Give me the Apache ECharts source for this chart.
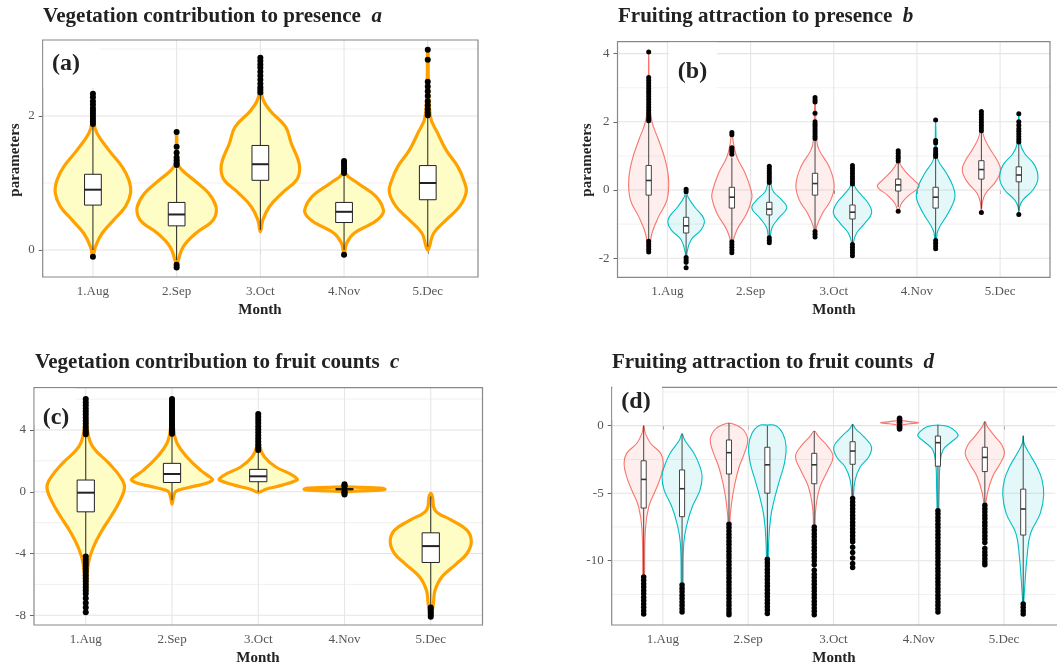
<!DOCTYPE html>
<html><head><meta charset="utf-8">
<script src="https://cdn.jsdelivr.net/npm/echarts@6/dist/echarts.min.js"></script>
<style>html,body{margin:0;padding:0;background:#fff}#c{width:1057px;height:667px}</style>
</head><body><div id="c"></div><script>
// ---------------- data ----------------
const months = ['1.Aug', '2.Sep', '3.Oct', '4.Nov', '5.Dec'];
const monthPos = [1, 2, 3, 4, 5];

// (a) Vegetation contribution to presence
const aTicks = [0, 2];
const aMinor = [1, 3];
const aBox = [[0.0, 0.67, 0.90, 1.13, 1.84], [-0.15, 0.36, 0.53, 0.71, 1.22], [0.3, 1.04, 1.28, 1.56, 2.31], [0.0, 0.41, 0.57, 0.71, 1.14], [0.05, 0.75, 1.0, 1.26, 2.0]];
const aViolin = [
  [[2.33,0],[1.9,0.012],[1.74,0.05],[1.49,0.19],[1.24,0.35],[1.04,0.43],[0.85,0.45],[0.65,0.39],[0.45,0.25],[0.25,0.11],[0.05,0.03],[-0.1,0]],
  [[1.76,0],[1.3,0.015],[1.2,0.06],[1.04,0.21],[0.85,0.38],[0.65,0.47],[0.5,0.46],[0.4,0.4],[0.25,0.23],[0.05,0.08],[-0.15,0.02],[-0.25,0]],
  [[2.87,0],[2.3,0.02],[2.09,0.11],[1.84,0.3],[1.59,0.37],[1.35,0.45],[1.2,0.47],[1.04,0.43],[0.85,0.26],[0.65,0.11],[0.45,0.03],[0.27,0]],
  [[1.33,0],[1.14,0.02],[1.0,0.16],[0.8,0.38],[0.6,0.47],[0.5,0.44],[0.4,0.34],[0.25,0.12],[0.1,0.03],[-0.07,0]],
  [[3.0,0],[2.0,0.03],[1.74,0.12],[1.49,0.22],[1.24,0.36],[1.04,0.43],[0.87,0.46],[0.65,0.38],[0.45,0.22],[0.25,0.07],[0.05,0.02],[0.0,0]]
];
const aOut = [
  [2.33, 2.28, 2.22, 2.17, 2.12, 2.08, 2.04, 2.0, 1.96, 1.92, 1.88, -0.1],
  [1.76, 1.54, 1.45, 1.38, 1.34, 1.3, 1.27, -0.22, -0.26],
  [2.87, 2.82, 2.77, 2.72, 2.66, 2.6, 2.54, 2.48, 2.43, 2.39, 2.35],
  [1.33, 1.3, 1.26, 1.22, 1.18, 1.15, -0.07],
  [2.99, 2.84, 2.51, 2.44, 2.37, 2.3, 2.22, 2.16, 2.1, 2.05, 2.01]
];

// (b) Fruiting attraction to presence
const bTicks = [-2, 0, 2, 4];
const bMinor = [-1, 1, 3];
const bBoxRed = [[-1.45, -0.15, 0.28, 0.72, 1.98], [-1.45, -0.53, -0.21, 0.08, 0.95], [-1.15, -0.15, 0.19, 0.49, 1.45], [-0.5, -0.03, 0.15, 0.32, 0.8], [-0.55, 0.32, 0.6, 0.86, 1.7]];
const bBoxCyan = [[-1.9, -1.26, -1.05, -0.8, -0.15], [-1.35, -0.73, -0.56, -0.36, 0.17], [-1.55, -0.85, -0.65, -0.44, 0.14], [-1.45, -0.53, -0.21, 0.08, 0.95], [-0.6, 0.24, 0.44, 0.68, 1.35]];
const bViolinRed = [
  [[4.05,0],[2.6,0.01],[2.0,0.04],[1.46,0.12],[0.87,0.2],[0.29,0.24],[-0.29,0.22],[-0.78,0.12],[-1.26,0.04],[-1.8,0]],
  [[1.68,0],[1.36,0.02],[0.97,0.06],[0.49,0.16],[0.0,0.23],[-0.24,0.24],[-0.68,0.18],[-1.17,0.06],[-1.55,0.01],[-1.85,0]],
  [[2.7,0],[1.46,0.02],[1.17,0.05],[0.68,0.17],[0.15,0.23],[-0.29,0.19],[-0.68,0.09],[-1.07,0.02],[-1.4,0]],
  [[1.15,0],[0.78,0.02],[0.53,0.09],[0.29,0.19],[0.1,0.25],[-0.15,0.13],[-0.39,0.04],[-0.62,0]],
  [[2.3,0],[1.65,0.02],[1.26,0.09],[0.87,0.19],[0.58,0.23],[0.24,0.17],[-0.1,0.05],[-0.39,0.01],[-0.66,0]]
];
const bViolinCyan = [
  [[0.02,0],[-0.19,0.02],[-0.49,0.1],[-0.78,0.2],[-0.95,0.22],[-1.17,0.18],[-1.46,0.06],[-1.85,0.01],[-2.28,0]],
  [[0.7,0],[0.19,0.02],[-0.05,0.05],[-0.29,0.15],[-0.53,0.21],[-0.83,0.11],[-1.12,0.03],[-1.46,0.01],[-1.55,0]],
  [[0.72,0],[0.15,0.02],[-0.1,0.09],[-0.39,0.19],[-0.68,0.23],[-0.97,0.15],[-1.26,0.05],[-1.55,0.01],[-1.93,0]],
  [[2.05,0],[1.17,0.01],[0.87,0.03],[0.49,0.13],[0.1,0.21],[-0.24,0.23],[-0.68,0.15],[-1.17,0.03],[-1.46,0.01],[-1.72,0]],
  [[2.24,0],[1.36,0.02],[1.07,0.07],[0.73,0.19],[0.34,0.23],[0.0,0.17],[-0.29,0.05],[-0.49,0.01],[-0.72,0]]
];
const bOutRed = [
  [4.05, 3.3, 3.22, 3.14, 3.06, 2.98, 2.9, 2.82, 2.74, 2.66, 2.58, 2.5, 2.42, 2.34, 2.26, 2.18, 2.1, 2.03, -1.5, -1.58, -1.66, -1.74, -1.82],
  [1.69, 1.62, 1.24, 1.18, 1.12, 1.05, -1.52, -1.6, -1.68, -1.76, -1.84],
  [2.71, 2.64, 2.58, 2.25, 2.0, 1.93, 1.86, 1.79, 1.72, 1.65, 1.58, 1.51, -1.22, -1.3, -1.38],
  [1.15, 1.08, 1.0, 0.93, 0.85, -0.62],
  [2.3, 2.22, 2.14, 2.06, 1.98, 1.9, 1.82, 1.74, -0.66]
];
const bOutCyan = [
  [0.02, -0.05, -1.98, -2.05, -2.12, -2.28],
  [0.7, 0.63, 0.56, 0.49, 0.42, 0.35, 0.28, 0.22, -1.4, -1.47, -1.55],
  [0.72, 0.64, 0.56, 0.48, 0.4, 0.32, 0.24, 0.18, -1.6, -1.68, -1.76, -1.84, -1.93],
  [2.05, 1.45, 1.38, 1.2, 1.12, 1.05, 0.98, -1.48, -1.56, -1.64, -1.72],
  [2.24, 2.0, 1.9, 1.8, 1.72, 1.64, 1.56, 1.48, 1.41, -0.72]
];

// (c) Vegetation contribution to fruit counts
const cTicks = [-8, -4, 0, 4];
const cMinor = [-6, -2, 2, 6];
const cBox = [[-4.1, -1.3, -0.06, 0.76, 3.6], [-0.55, 0.6, 1.15, 1.84, 3.65], [0.0, 0.65, 1.0, 1.45, 2.65], [0.1, 0.13, 0.17, 0.21, 0.24], [-7.4, -4.58, -3.52, -2.66, -0.3]];
const cViolin = [
  [[6.0,0],[4.0,0.02],[2.92,0.08],[1.84,0.27],[0.97,0.4],[0.32,0.45],[-0.54,0.4],[-1.62,0.29],[-2.49,0.19],[-3.57,0.09],[-4.65,0.03],[-6.4,0.01],[-7.8,0]],
  [[6.0,0],[4.0,0.02],[3.13,0.06],[2.27,0.17],[1.4,0.33],[0.95,0.44],[0.76,0.47],[0.55,0.4],[0.35,0.25],[0.15,0.1],[0.0,0.04],[-0.4,0.015],[-0.8,0]],
  [[5.04,0],[2.92,0.02],[2.27,0.07],[1.62,0.2],[1.19,0.36],[0.9,0.44],[0.76,0.45],[0.43,0.28],[0.15,0.08],[-0.04,0]],
  [[0.32,0],[0.28,0.2],[0.24,0.42],[0.17,0.47],[0.1,0.42],[0.06,0.2],[0.02,0]],
  [[-0.1,0],[-0.32,0.02],[-1.19,0.05],[-1.84,0.24],[-2.49,0.42],[-3.24,0.47],[-4.0,0.42],[-4.65,0.3],[-5.51,0.13],[-6.38,0.05],[-7.24,0.03],[-8.1,0]]
];
const cOut = [
  [6.0, 5.8, 5.6, 5.4, 5.2, 5.0, 4.8, 4.6, 4.4, 4.2, 4.0, 3.85, 3.72, -4.2, -4.4, -4.6, -4.8, -5.0, -5.2, -5.4, -5.6, -5.8, -6.0, -6.2, -6.4, -6.6, -6.9, -7.2, -7.5, -7.8],
  [6.0, 5.85, 5.7, 5.55, 5.4, 5.25, 5.1, 4.95, 4.8, 4.65, 4.5, 4.35, 4.2, 4.05, 3.9, 3.75],
  [5.04, 4.85, 4.65, 4.45, 4.25, 4.05, 3.85, 3.65, 3.45, 3.25, 3.05, 2.85, 2.7],
  [0.48, 0.4, 0.33, 0.05, -0.02, -0.1, -0.18],
  [-7.5, -7.65, -7.8, -7.95, -8.1]
];

// (d) Fruiting attraction to fruit counts
const dTicks = [-10, -5, 0];
const dMinor = [-12.5, -7.5, -2.5, 2.5];
const dBoxRed = [[-11.0, -6.1, -3.98, -2.6, 0.0], [-7.1, -3.58, -2.0, -1.06, 0.2], [-7.3, -4.3, -2.9, -2.05, -0.4], [0.1, 0.15, 0.2, 0.25, 0.3], [-5.7, -3.4, -2.35, -1.6, 0.3]];
const dBoxCyan = [[-11.6, -6.74, -4.67, -3.28, -0.6], [-9.7, -5.0, -2.9, -1.6, 0.0], [-5.25, -2.86, -1.88, -1.19, 0.1], [-6.1, -3.0, -1.26, -0.77, 0.05], [-13.0, -8.1, -6.17, -4.7, -0.75]];
const dViolinRed = [
  [[0,0],[-0.57,0.02],[-1.3,0.08],[-2.05,0.2],[-2.8,0.23],[-3.78,0.2],[-4.77,0.14],[-6.0,0.06],[-7.7,0.02],[-11.2,0.01],[-14,0]],
  [[0.2,0],[0.05,0.08],[-0.32,0.17],[-1.06,0.22],[-2.05,0.18],[-3.04,0.12],[-4.27,0.07],[-5.75,0.03],[-7.23,0.01],[-14,0]],
  [[-0.4,0],[-0.8,0.05],[-1.55,0.16],[-2.3,0.22],[-3.28,0.16],[-4.5,0.07],[-6.0,0.02],[-7.5,0.01],[-14,0]],
  [[0.38,0],[0.3,0.12],[0.22,0.225],[0.14,0.12],[0.06,0]],
  [[0.3,0],[-0.07,0.03],[-0.81,0.12],[-1.43,0.2],[-2.05,0.23],[-2.8,0.18],[-3.78,0.09],[-5.0,0.03],[-6.0,0.01],[-10.3,0]]
];
const dViolinCyan = [
  [[-0.6,0],[-1.06,0.03],[-2.05,0.14],[-3.04,0.21],[-3.78,0.235],[-4.77,0.21],[-6.0,0.12],[-7.23,0.06],[-8.7,0.02],[-11.7,0.01],[-13.8,0]],
  [[0.05,0],[0.0,0.1],[-0.57,0.18],[-1.55,0.22],[-2.8,0.2],[-4.0,0.145],[-5.26,0.09],[-6.74,0.04],[-8.7,0.015],[-14,0]],
  [[0.1,0],[-0.2,0.03],[-0.81,0.13],[-1.55,0.22],[-2.3,0.19],[-3.04,0.09],[-4.0,0.03],[-5.26,0.01],[-10.5,0]],
  [[0.05,0],[-0.07,0.12],[-0.44,0.21],[-0.77,0.235],[-1.19,0.16],[-1.8,0.06],[-2.8,0.025],[-4.77,0.015],[-6.37,0.01],[-13.8,0]],
  [[-0.75,0],[-1.3,0.01],[-2.05,0.07],[-3.04,0.16],[-4.0,0.22],[-5.14,0.24],[-6.5,0.2],[-8.0,0.085],[-9.7,0.045],[-11.7,0.02],[-13.2,0.005],[-14,0]]
];
const dOutRed = [
  [-11.2, -11.45, -11.7, -11.95, -12.2, -12.45, -12.7, -12.95, -13.2, -13.45, -13.7, -13.95],
  [-7.3, -7.55, -7.8, -8.05, -8.3, -8.55, -8.8, -9.05, -9.3, -9.55, -9.8, -10.05, -10.3, -10.55, -10.8, -11.05, -11.3, -11.55, -11.8, -12.05, -12.3, -12.55, -12.8, -13.05, -13.3, -13.55, -13.8, -14.0],
  [-7.5, -7.75, -8.0, -8.25, -8.5, -8.75, -9.0, -9.25, -9.5, -9.75, -10.0, -10.3, -10.7, -11.0, -11.25, -11.5, -11.75, -12.0, -12.25, -12.5, -12.75, -13.0, -13.25, -13.5, -13.75, -14.0],
  [0.55, 0.45, 0.35, 0.0, -0.08, -0.16, -0.25],
  [-5.9, -6.15, -6.4, -6.65, -6.9, -7.15, -7.4, -7.65, -7.9, -8.15, -8.4, -8.65, -9.1, -9.35, -9.6, -9.85, -10.1, -10.3]
];
const dOutCyan = [
  [-11.8, -12.05, -12.3, -12.55, -12.8, -13.05, -13.3, -13.55, -13.8],
  [-9.9, -10.15, -10.4, -10.65, -10.9, -11.15, -11.4, -11.65, -11.9, -12.15, -12.4, -12.65, -12.9, -13.15, -13.4, -13.65, -13.9],
  [-5.4, -5.65, -5.9, -6.15, -6.4, -6.65, -6.9, -7.15, -7.4, -7.65, -7.9, -8.15, -8.4, -8.6, -9.0, -9.4, -9.8, -10.2, -10.5],
  [-6.3, -6.55, -6.8, -7.05, -7.3, -7.55, -7.8, -8.05, -8.3, -8.55, -8.8, -9.05, -9.3, -9.55, -9.8, -10.05, -10.3, -10.55, -10.8, -11.05, -11.3, -11.55, -11.8, -12.05, -12.3, -12.55, -12.8, -13.05, -13.3, -13.55, -13.8],
  [-13.2, -13.45, -13.7, -13.95]
];

// ---------------- layout / style ----------------
const FONT = "'Liberation Serif', 'Times New Roman', serif";
const panels = [
  { left: 42.7, top: 40, width: 435.3, height: 237, ymin: -0.403, ymax: 3.134, ticks: aTicks, minor: aMinor },
  { left: 617.5, top: 41.7, width: 432.5, height: 235.6, ymin: -2.56, ymax: 4.35, ticks: bTicks, minor: bMinor },
  { left: 34, top: 387.7, width: 448.5, height: 237.3, ymin: -8.63, ymax: 6.74, ticks: cTicks, minor: cMinor },
  { left: 611.7, top: 387.3, width: 443.5, height: 237.7, ymin: -14.76, ymax: 2.84, ticks: dTicks, minor: dMinor }
];
const RED = '#F8766D', CYAN = '#00BFC4', ORANGE = '#FFA200', YELLOW = '#FFFDC6';
const RED_FILL = 'rgba(248,118,109,0.12)', CYAN_FILL = 'rgba(0,191,196,0.10)';

function gridSeries(gi) {
  const p = panels[gi];
  const items = p.ticks.map(v => [v, 0]).concat(p.minor.map(v => [v, 1])).concat(monthPos.map(v => [v, 2]));
  return {
    type: 'custom', xAxisIndex: gi, yAxisIndex: gi, z: 1, silent: true, clip: false, animation: false,
    data: items,
    renderItem(params, api) {
      const cs = params.coordSys; const v = api.value(0), kind = api.value(1);
      if (kind === 2) {
        const q = api.coord([v, p.ymin]);
        return { type: 'line', shape: { x1: q[0], y1: cs.y, x2: q[0], y2: cs.y + cs.height }, style: { stroke: '#e6e6e6', lineWidth: 1.1 } };
      }
      const q = api.coord([1, v]);
      return { type: 'line', shape: { x1: cs.x, y1: q[1], x2: cs.x + cs.width, y2: q[1] },
        style: { stroke: kind === 0 ? '#e4e4e4' : '#eeeeee', lineWidth: kind === 0 ? 1.1 : 0.9 } };
    }
  };
}

function violinSeries(gi, profiles, offset, stroke, fill, lw) {
  return {
    type: 'custom', xAxisIndex: gi, yAxisIndex: gi, z: 2, silent: true, clip: false, animation: false,
    data: profiles.map((p, i) => [monthPos[i], p[0][0]]),
    renderItem(params, api) {
      const prof = profiles[params.dataIndex]; const x = api.value(0) + offset;
      const right = prof.map(([y, w]) => api.coord([x + w, y]));
      const left = prof.filter(([y, w]) => w > 0).reverse().map(([y, w]) => api.coord([x - w, y]));
      return { type: 'polygon', shape: { points: right.concat(left), smooth: 0.42 },
        style: { fill: fill, stroke: stroke, lineWidth: lw, lineJoin: 'round' } };
    }
  };
}

function boxSeries(gi, boxes, offset, halfW, color, lw, medW) {
  return {
    type: 'custom', xAxisIndex: gi, yAxisIndex: gi, z: 3, silent: true, clip: false, animation: false,
    data: boxes.map((b, i) => [monthPos[i], b[2]]),
    renderItem(params, api) {
      const [lo, q1, md, q3, hi] = boxes[params.dataIndex]; const x = api.value(0) + offset;
      const pLo = api.coord([x, lo]), pHi = api.coord([x, hi]);
      const a = api.coord([x - halfW, q1]), b = api.coord([x + halfW, q3]);
      const m1 = api.coord([x - halfW, md]), m2 = api.coord([x + halfW, md]);
      return { type: 'group', children: [
        { type: 'line', shape: { x1: pLo[0], y1: pLo[1], x2: pHi[0], y2: pHi[1] }, style: { stroke: color, lineWidth: lw } },
        { type: 'rect', shape: { x: a[0], y: b[1], width: b[0] - a[0], height: a[1] - b[1] }, style: { fill: '#fff', stroke: color, lineWidth: lw } },
        { type: 'line', shape: { x1: m1[0], y1: m1[1], x2: m2[0], y2: m2[1] }, style: { stroke: color, lineWidth: medW } }
      ] };
    }
  };
}

function outlierSeries(gi, outs, offset, size) {
  const data = [];
  outs.forEach((arr, i) => arr.forEach(v => data.push([monthPos[i] + offset, v])));
  return { type: 'scatter', xAxisIndex: gi, yAxisIndex: gi, z: 4, silent: true, animation: false,
    symbolSize: size, itemStyle: { color: '#000', opacity: 1 }, data: data };
}

const xAxes = panels.map((p, gi) => ({
  type: 'value', gridIndex: gi, min: 0.4, max: 5.6,
  axisLine: { show: false }, splitLine: { show: false },
  axisTick: { show: true, customValues: monthPos, length: 4, lineStyle: { color: '#666', width: 1 } },
  axisLabel: { customValues: monthPos, formatter: v => months[Math.round(v) - 1], color: '#555', fontFamily: FONT, fontSize: 13, margin: 8 }
}));
const yAxes = panels.map((p, gi) => ({
  type: 'value', gridIndex: gi, min: p.ymin, max: p.ymax,
  axisLine: { show: false }, splitLine: { show: false },
  axisTick: { show: true, customValues: p.ticks, length: 4, lineStyle: { color: '#666', width: 1 } },
  axisLabel: { customValues: p.ticks, formatter: v => String(v), color: '#555', fontFamily: FONT, fontSize: 13, margin: 8 }
}));

const series = [
  gridSeries(0), gridSeries(1), gridSeries(2), gridSeries(3),
  violinSeries(0, aViolin, 0, ORANGE, YELLOW, 3.2),
  boxSeries(0, aBox, 0, 0.1, '#222', 1, 2),
  outlierSeries(0, aOut, 0, 6),
  violinSeries(1, bViolinRed, -0.225, RED, RED_FILL, 1.1),
  violinSeries(1, bViolinCyan, 0.225, CYAN, CYAN_FILL, 1.1),
  boxSeries(1, bBoxRed, -0.225, 0.032, '#333', 0.9, 1.6),
  boxSeries(1, bBoxCyan, 0.225, 0.032, '#333', 0.9, 1.6),
  outlierSeries(1, bOutRed, -0.225, 5),
  outlierSeries(1, bOutCyan, 0.225, 5),
  violinSeries(2, cViolin, 0, ORANGE, YELLOW, 3.2),
  boxSeries(2, cBox, 0, 0.1, '#222', 1, 2),
  outlierSeries(2, cOut, 0, 6),
  violinSeries(3, dViolinRed, -0.225, RED, RED_FILL, 1.1),
  violinSeries(3, dViolinCyan, 0.225, CYAN, CYAN_FILL, 1.1),
  boxSeries(3, dBoxRed, -0.225, 0.03, '#333', 0.9, 1.6),
  boxSeries(3, dBoxCyan, 0.225, 0.03, '#333', 0.9, 1.6),
  outlierSeries(3, dOutRed, -0.225, 5.5),
  outlierSeries(3, dOutCyan, 0.225, 5.5)
];

function title(x, y, main, letter) {
  return { type: 'text', x: x, y: y, z: 20, style: {
    text: '{t|' + main + '}{g|  }{i|' + letter + '}', textVerticalAlign: 'middle', textAlign: 'left',
    rich: { t: { fontFamily: FONT, fontWeight: 'bold', fontSize: 21, fill: '#222' },
            g: { fontFamily: FONT, fontSize: 21 },
            i: { fontFamily: FONT, fontStyle: 'italic', fontWeight: 'bold', fontSize: 21, fill: '#222' } } } };
}
function txt(x, y, s, size, weight, rot) {
  return { type: 'text', x: x, y: y, z: 20, rotation: rot || 0, style: {
    text: s, fontFamily: FONT, fontSize: size, fontWeight: weight, fill: '#222', textAlign: 'center', textVerticalAlign: 'middle' } };
}
function frame(p) {
  return { type: 'rect', z: 5, silent: true, shape: { x: p.left, y: p.top, width: p.width, height: p.height },
    style: { fill: null, stroke: '#888', lineWidth: 1.2 } };
}
function whiteBox(x1, y1, x2, y2) {
  return { type: 'rect', z: 10, silent: true, shape: { x: x1, y: y1, width: x2 - x1, height: y2 - y1 }, style: { fill: '#fff' } };
}
const pd = panels[3];
const graphics = [
  frame(panels[0]), frame(panels[1]), frame(panels[2]),
  { type: 'polyline', z: 5, silent: true, shape: { points: [[1060, pd.top], [pd.left, pd.top], [pd.left, pd.top + pd.height], [1060, pd.top + pd.height]] },
    style: { fill: null, stroke: '#888', lineWidth: 1.2 } },
  whiteBox(43.5, 41, 100, 88), whiteBox(669, 42.5, 717, 100), whiteBox(34.8, 388.5, 76, 425), whiteBox(612.4, 384, 662, 420),
  txt(66, 64, '(a)', 24, 'bold'), txt(692.5, 72, '(b)', 24, 'bold'), txt(56, 418, '(c)', 24, 'bold'), txt(636, 401.5, '(d)', 24, 'bold'),
  title(43, 17, 'Vegetation contribution to presence', 'a'),
  title(618, 17, 'Fruiting attraction to presence', 'b'),
  title(35, 363, 'Vegetation contribution to fruit counts', 'c'),
  title(612, 363, 'Fruiting attraction to fruit counts', 'd'),
  txt(15, 160, 'parameters', 15, 'bold', Math.PI / 2),
  txt(587, 160, 'parameters', 15, 'bold', Math.PI / 2),
  txt(260, 310, 'Month', 15, 'bold'), txt(834, 310, 'Month', 15, 'bold'),
  txt(258, 658, 'Month', 15, 'bold'), txt(834, 658, 'Month', 15, 'bold')
];

const chart = echarts.init(document.getElementById('c'), null, { renderer: 'canvas' });
chart.setOption({
  animation: false,
  backgroundColor: '#fff',
  grid: panels.map(p => ({ left: p.left, top: p.top, width: p.width, height: p.height, show: false, containLabel: false })),
  xAxis: xAxes,
  yAxis: yAxes,
  series: series,
  graphic: { elements: graphics }
});
</script></body></html>
